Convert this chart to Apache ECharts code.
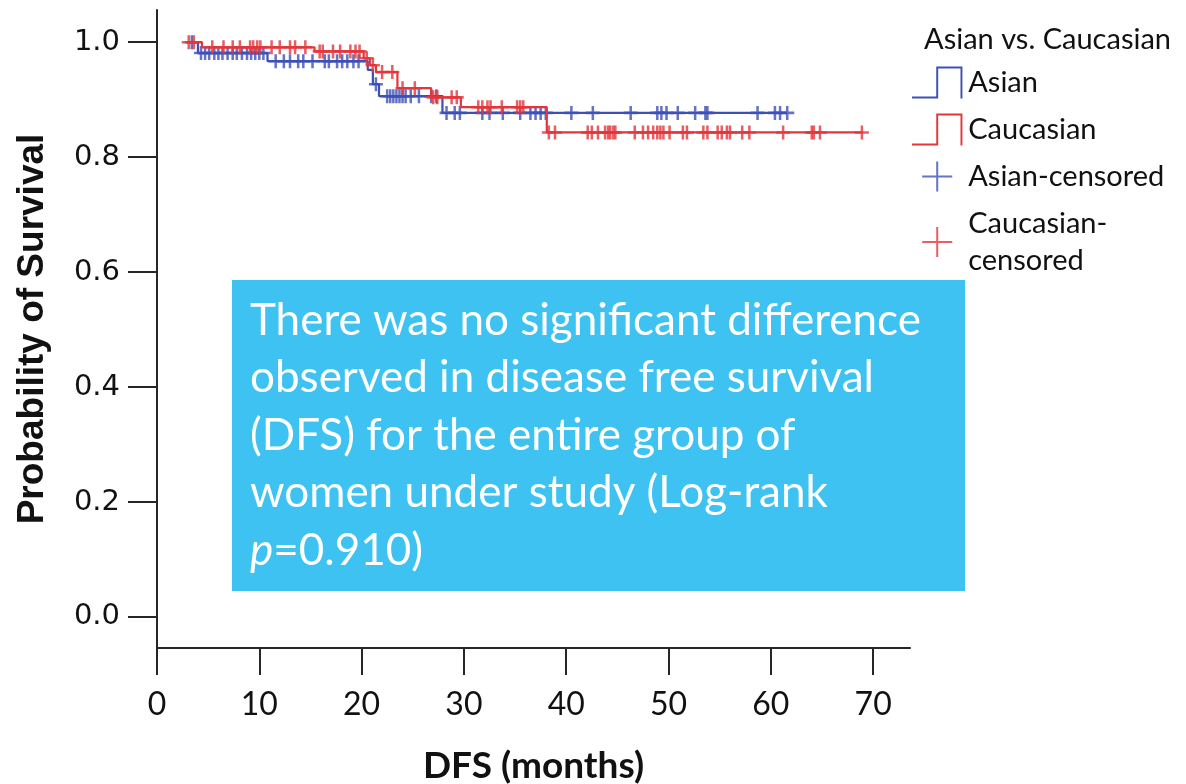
<!DOCTYPE html>
<html>
<head>
<meta charset="utf-8">
<script src="https://cdn.jsdelivr.net/npm/echarts@6/dist/echarts.min.js"></script>
<style>
  html, body { margin: 0; padding: 0; background: #ffffff; }
  #chart { width: 1186px; height: 784px; }
</style>
</head>
<body>
<div id="chart"></div>
<script>
// Kaplan-Meier step points: time (months) at which survival changes, and the new level
const asianStepTimes = [3.3, 4.0, 10.8, 20.6, 21.1, 21.7, 27.9, 61.6];
const asianSurvival  = [1.0, 0.981, 0.967, 0.952, 0.927, 0.906, 0.877, 0.877];

const caucasianStepTimes = [3.0, 4.4, 15.4, 20.2, 20.8, 21.4, 23.5, 26.8, 29.7, 38.1, 69.0];
const caucasianSurvival  = [1.0, 0.991, 0.984, 0.972, 0.960, 0.948, 0.920, 0.904, 0.887, 0.843, 0.843];

// Censoring times (months)
const asianCensored = [3.4, 4.3, 4.7, 5.1, 5.6, 6.0, 6.4, 6.9, 7.4, 7.8, 8.3, 8.8, 9.2, 9.6, 10.0, 10.4,
  11.6, 12.4, 13.0, 13.8, 14.3, 15.2, 16.4, 16.8, 17.6, 18.1, 18.6, 19.2, 19.7, 21.4,
  22.5, 22.8, 23.1, 23.4, 23.7, 24.0, 24.3, 24.8, 25.6, 26.8, 27.3,
  28.3, 29.1, 29.6, 31.8, 32.5, 33.8, 35.5, 36.5, 37.0, 37.5, 38.0, 40.5, 42.6, 46.3,
  48.9, 49.3, 49.8, 50.9, 52.6, 53.6, 53.8, 58.7, 60.4, 60.9, 61.6];
const caucasianCensored = [3.1, 3.6, 5.4, 6.5, 7.4, 8.1, 9.1, 9.4, 9.8, 10.1, 11.2, 12.0, 13.0, 13.5, 14.5,
  15.9, 16.2, 17.2, 17.9, 18.9, 19.4, 19.8, 20.5, 21.1, 22.0, 23.0, 24.0, 25.2,
  27.0, 27.4, 28.8, 29.3, 31.4, 31.8, 32.3, 32.6, 33.7, 35.2, 35.5, 35.8,
  38.3, 38.9, 42.1, 42.5, 43.1, 43.8, 44.1, 44.3, 44.6, 44.8, 46.7, 47.5, 48.0, 48.5,
  48.9, 49.2, 49.5, 50.1, 51.4, 51.8, 53.4, 53.8, 54.8, 55.2, 55.7, 56.0, 57.2, 57.9,
  61.2, 64.0, 64.2, 64.8, 68.9];

// Axis ticks and labels
const xTickValues = [0, 10, 20, 30, 40, 50, 60, 70];
const yTickValues = [0, 0.2, 0.4, 0.6, 0.8, 1.0];

const seriesNames = ['Asian', 'Caucasian', 'Asian-censored', 'Caucasian-\ncensored'];
const legendTitle = 'Asian vs. Caucasian';
const noteLines = [
  'There was no significant difference',
  'observed in disease free survival',
  '(DFS) for the entire group of',
  'women under study (Log-rank',
  '{i|p}=0.910)'
];

const BLUE = '#3d50b6';
const RED = '#e3363b';

// Survival level of a step curve at time t (level of the last step at or before t)
function survivalAt(times, surv, t) {
  let s = surv[0];
  for (let i = 0; i < times.length; i++) {
    if (times[i] <= t) s = surv[i];
  }
  return s;
}

const asianCurve = asianStepTimes.map((t, i) => [t, asianSurvival[i]]);
const caucasianCurve = caucasianStepTimes.map((t, i) => [t, caucasianSurvival[i]]);
const asianMarks = asianCensored.map(t => [t, survivalAt(asianStepTimes, asianSurvival, t)]);
const caucasianMarks = caucasianCensored.map(t => [t, survivalAt(caucasianStepTimes, caucasianSurvival, t)]);

const plusSymbol = 'path://M4.1,0H5.9V4.1H10V5.9H5.9V10H4.1V5.9H0V4.1H4.1Z';
const stepIcon = 'path://M0,31H25V0H52V33H50V2H27V33H0Z';
const plusIcon = 'path://M0,0M32,32M15,1H17V15H31V17H17V31H15V17H1V15H15Z';

const axisColor = '#262626';

const chart = echarts.init(document.getElementById('chart'), null, { renderer: 'canvas' });

chart.setOption({
  backgroundColor: '#ffffff',
  animation: false,
  title: {
    text: legendTitle,
    left: 924,
    top: 25,
    textStyle: { fontFamily: 'Lato', fontSize: 29, fontWeight: 'normal', color: '#111111' },
    padding: 0
  },
  legend: {
    orient: 'vertical',
    left: 912,
    top: 64,
    itemWidth: 52,
    itemHeight: 32,
    itemGap: 10,
    padding: 0,
    selectedMode: false,
    itemStyle: { borderWidth: 0 },
    textStyle: { fontFamily: 'Lato', fontSize: 29, color: '#111111', lineHeight: 37 },
    data: [
      { name: seriesNames[0], icon: stepIcon },
      { name: seriesNames[1], icon: stepIcon },
      { name: seriesNames[2], icon: plusIcon },
      { name: seriesNames[3], icon: plusIcon }
    ]
  },
  grid: { left: 157, right: 276, top: 10, bottom: 136, containLabel: false, outerBoundsMode: 'none' },
  xAxis: {
    type: 'value',
    min: 0,
    max: 73.6,
    name: 'DFS (months)',
    nameLocation: 'middle',
    nameGap: 100,
    nameTextStyle: { fontFamily: 'Lato', fontSize: 37, fontWeight: 'bold', color: '#111111' },
    axisLine: { show: true, onZero: false, lineStyle: { color: axisColor, width: 2 } },
    axisTick: { show: true, length: 27, inside: false, customValues: xTickValues, lineStyle: { color: axisColor, width: 2 } },
    axisLabel: { customValues: xTickValues, margin: 41, fontFamily: 'Lato', fontSize: 32, color: '#111111' },
    splitLine: { show: false }
  },
  yAxis: {
    type: 'value',
    min: -0.054,
    max: 1.056,
    name: 'Probability of Survival',
    nameLocation: 'middle',
    nameGap: 106,
    nameTextStyle: { fontFamily: 'Liberation Sans Narrow, Liberation Sans', fontSize: 37, fontWeight: 'bold', color: '#111111' },
    axisLine: { show: true, onZero: false, lineStyle: { color: axisColor, width: 2 } },
    axisTick: { show: true, length: 29, inside: false, customValues: yTickValues, lineStyle: { color: axisColor, width: 2 } },
    axisLabel: {
      customValues: yTickValues,
      margin: 37,
      fontFamily: 'DejaVu Sans',
      fontSize: 29,
      color: '#111111',
      formatter: v => v.toFixed(1)
    },
    splitLine: { show: false }
  },
  series: [
    {
      name: seriesNames[0], type: 'line', step: 'end', data: asianCurve,
      showSymbol: false, symbol: 'none', color: BLUE,
      lineStyle: { color: BLUE, width: 2.2 }, z: 2
    },
    {
      name: seriesNames[2], type: 'scatter', data: asianMarks,
      symbol: plusSymbol, symbolSize: 14, color: BLUE,
      itemStyle: { color: BLUE }, z: 3
    },
    {
      name: seriesNames[1], type: 'line', step: 'end', data: caucasianCurve,
      showSymbol: false, symbol: 'none', color: RED,
      lineStyle: { color: RED, width: 2.2 }, z: 4
    },
    {
      name: seriesNames[3], type: 'scatter', data: caucasianMarks,
      symbol: plusSymbol, symbolSize: 14, color: RED,
      itemStyle: { color: RED }, z: 5
    }
  ],
  graphic: [
    {
      type: 'rect',
      left: 232, top: 280,
      shape: { width: 733, height: 311 },
      style: { fill: '#3ec2f2' },
      z: 10
    },
    {
      type: 'text',
      left: 250, top: 292,
      z: 11,
      style: {
        text: noteLines.join('\n'),
        fill: '#ffffff',
        fontFamily: 'Lato',
        fontSize: 44,
        lineHeight: 57.5,
        rich: {
          i: { fontFamily: 'Lato', fontSize: 44, fontStyle: 'italic', fill: '#ffffff', lineHeight: 57.5 }
        }
      }
    }
  ]
});
</script>
</body>
</html>
